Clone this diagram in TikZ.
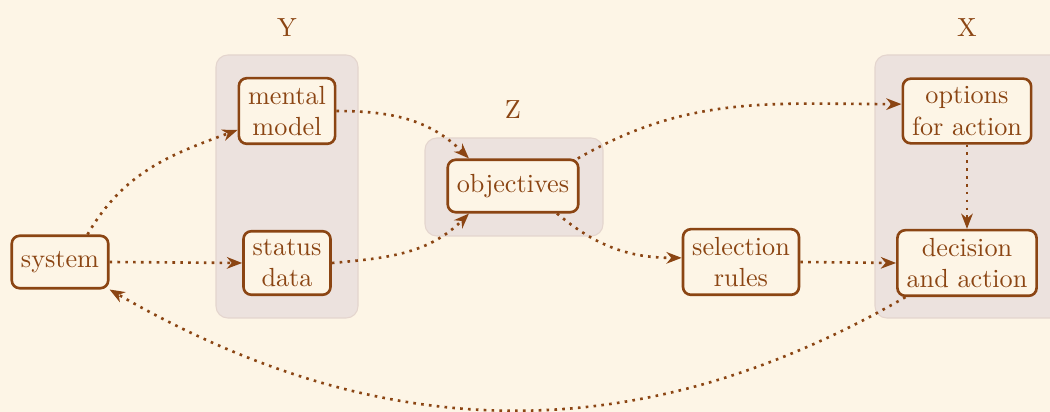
\documentclass[tikz,border=0pt]{standalone}
\usetikzlibrary{arrows.meta}
\definecolor{bg}{HTML}{FDF5E6}
\definecolor{brn}{HTML}{8B4513}
\definecolor{grp}{HTML}{ECE2DE}
\definecolor{grpline}{HTML}{E4D5CE}
\begin{document}
\begin{tikzpicture}[x=0.3817pt,y=0.3817pt,
  box/.style={draw=brn,fill=bg,text=brn,line width=1pt,rounded corners=3pt,
    align=center,inner xsep=3.5pt,inner ysep=3pt,minimum height=20pt},
  grpbox/.style={fill=grp,draw=grpline,line width=0.4pt,rounded corners=4.5pt},
  glabel/.style={text=brn},
  conn/.style={brn,line width=1pt,dotted,-{Stealth[length=5.8pt,width=4.4pt,inset=1.8pt]}}]
\useasboundingbox (0,0) rectangle (1050,-412);
\fill[bg] (0,0) rectangle (1050,-412);
% groups
\draw[grpbox] (216,-55) rectangle (358,-318);
\draw[grpbox] (425,-138) rectangle (603,-236);
\draw[grpbox] (875,-55) rectangle (1062,-318);
\node[glabel] (lY) at (287,-28) {Y};
\node[glabel] (lZ) at (513,-110) {Z};
\node[glabel] (lX) at (967,-28) {X};
% nodes
\node[box] (system) at (60,-262) {system};
\node[box] (mental) at (287,-111) {mental\\model};
\node[box] (status) at (287,-263) {status\\data};
\node[box] (obj) at (513,-186) {objectives};
\node[box] (sel) at (741,-262) {selection\\rules};
\node[box] (opt) at (967,-111) {options\\for action};
\node[box] (dec) at (967,-263) {decision\\and action};
% connectors
\draw[conn] (system.45) to[out=60,in=200] (mental.201);
\draw[conn] (system.east) -- (status.west);
\draw[conn] (mental.east) to[out=0,in=135] (obj.148);
\draw[conn] (status.east) to[out=5,in=225] (obj.212);
\draw[conn] (obj.23) to[out=30,in=180] (opt.174);
\draw[conn] (obj.-32) to[out=-40,in=180] (sel.176);
\draw[conn] (sel.east) -- (dec.west);
\draw[conn] (opt.south) -- (dec.north);
\draw[conn] (dec.209) to[out=210,in=-30] (system.south east);
\end{tikzpicture}
\end{document}
